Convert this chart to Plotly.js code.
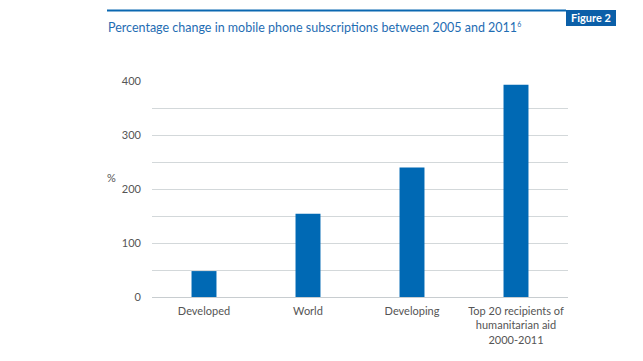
<!DOCTYPE html>
<html>
<head>
<meta charset="utf-8">
<script src="https://cdn.plot.ly/plotly-3.0.1.min.js"></script>
<style>
html,body{margin:0;padding:0;background:#fff;}
#chart{width:643px;height:361px;}
</style>
</head>
<body>
<div id="chart"></div>
<script>
const categories = ["Developed", "World", "Developing", "Top 20 recipients of<br>humanitarian aid<br>2000-2011"];
const values = [48, 154, 240, 393];
const yTicks = [0, 100, 200, 300, 400];

const W = 643, H = 361;
const L = 152, R = 75, T = 81, B = 64;
const pw = W - L - R, ph = H - T - B;
const px = x => (x - L) / pw;
const py = y => (H - B - y) / ph;

const blue = '#0b68b1';
const font = 'Lato, "Open Sans", sans-serif';

const data = [{
  type: 'bar',
  x: categories,
  y: values,
  marker: {color: '#0069b4'},
  hoverinfo: 'x+y'
}];

const layout = {
  width: W, height: H,
  margin: {l: L, r: R, t: T, b: B},
  paper_bgcolor: '#fff', plot_bgcolor: '#fff',
  showlegend: false,
  bargap: 0.76,
  font: {family: font, size: 11, color: '#555'},
  xaxis: {
    type: 'category',
    showgrid: false, zeroline: false, showline: false,
    ticks: '', ticklabelstandoff: 6,
    tickfont: {family: font, size: 11, color: '#555'},
    automargin: false
  },
  yaxis: {
    range: [0, 400],
    tickvals: yTicks,
    ticktext: yTicks.map(String),
    showgrid: true, gridcolor: '#d3d8da', gridwidth: 1,
    minor: {dtick: 50, tick0: 0, showgrid: true, gridcolor: '#d3d8da', gridwidth: 1},
    zeroline: true, zerolinecolor: '#c8cdd0', zerolinewidth: 1,
    showline: false, ticks: '',
    ticklabelstandoff: 10,
    tickfont: {family: font, size: 11, color: '#555'},
    automargin: false
  },
  shapes: [
    {type: 'line', xref: 'paper', yref: 'paper', x0: px(107), x1: px(566), y0: py(10.5), y1: py(10.5),
     line: {color: blue, width: 2}},
    {type: 'rect', xref: 'paper', yref: 'paper', x0: px(566), x1: px(616), y0: py(10), y1: py(26),
     fillcolor: '#0b5fa8', line: {width: 0}}
  ],
  annotations: [
    {text: 'Percentage change in mobile phone subscriptions between 2005 and 2011<sup><span style="font-size:7px">6</span></sup>',
     xref: 'paper', yref: 'paper', x: px(106), y: py(28), xanchor: 'left', yanchor: 'middle',
     showarrow: false, font: {family: font, size: 12.5, color: '#1f6db3'}},
    {text: '<b>Figure 2</b>', xref: 'paper', yref: 'paper', x: px(591), y: py(18), xanchor: 'center', yanchor: 'middle',
     showarrow: false, font: {family: font, size: 11, color: '#fff'}},
    {text: '%', xref: 'paper', yref: 'paper', x: px(111), y: py(177), xanchor: 'center', yanchor: 'middle',
     showarrow: false, font: {family: font, size: 11, color: '#555'}}
  ]
};

Plotly.newPlot('chart', data, layout, {displayModeBar: false, staticPlot: true});
</script>
</body>
</html>
